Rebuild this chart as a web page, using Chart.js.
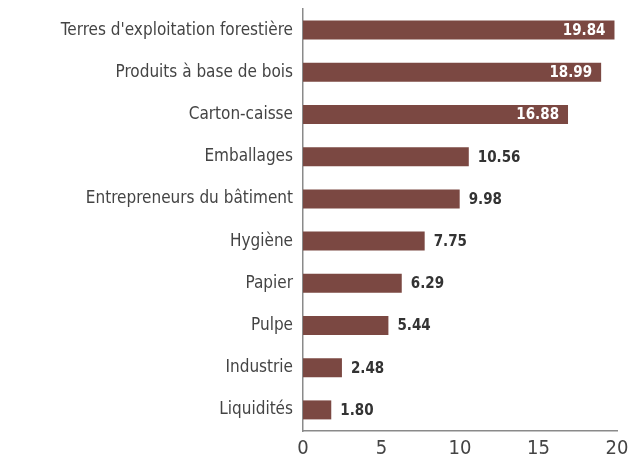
<!DOCTYPE html>
<html>
<head>
<meta charset="utf-8">
<script src="https://cdn.jsdelivr.net/npm/chart.js@4"></script>
<style>
  html, body { margin: 0; padding: 0; background: #fff; }
  #wrap { width: 642px; height: 470px; }
</style>
</head>
<body>
<div id="wrap"><canvas id="chart-bars"></canvas></div>
<script>
// categories, top to bottom
const categories = [
  "Terres d'exploitation forestière",
  "Produits à base de bois",
  "Carton-caisse",
  "Emballages",
  "Entrepreneurs du bâtiment",
  "Hygiène",
  "Papier",
  "Pulpe",
  "Industrie",
  "Liquidités"
];
const values = [19.84, 18.99, 16.88, 10.56, 9.98, 7.75, 6.29, 5.44, 2.48, 1.80];
const xTicks = [0, 5, 10, 15, 20];

const FONT = "'Liberation Sans Narrow', 'DejaVu Sans Condensed', sans-serif";
const BAR = "#7b4842";

// value labels: inside (white) when it doesn't fit at the end, else outside (dark)
const valueLabels = {
  id: "valueLabels",
  afterDatasetsDraw(chart) {
    const ctx = chart.ctx;
    const meta = chart.getDatasetMeta(0);
    const area = chart.chartArea;
    ctx.save();
    ctx.font = "bold 15px " + FONT;
    ctx.textBaseline = "middle";
    meta.data.forEach((bar, i) => {
      const txt = values[i].toFixed(2);
      const w = ctx.measureText(txt).width;
      if (bar.x + 8 + w > area.right) {
        ctx.fillStyle = "#ffffff";
        ctx.textAlign = "right";
        ctx.fillText(txt, bar.x - 9, bar.y + 1);
      } else {
        ctx.fillStyle = "#333333";
        ctx.textAlign = "left";
        ctx.fillText(txt, bar.x + 9, bar.y + 1);
      }
    });
    ctx.restore();
  }
};

new Chart(document.getElementById("chart-bars").getContext("2d"), {
  type: "bar",
  data: {
    labels: categories,
    datasets: [{
      data: values,
      backgroundColor: BAR,
      borderWidth: 0,
      categoryPercentage: 1,
      barPercentage: 0.45
    }]
  },
  options: {
    indexAxis: "y",
    responsive: true,
    maintainAspectRatio: false,
    animation: false,
    layout: { padding: { top: 9, right: 25, left: 0, bottom: 0 } },
    plugins: {
      legend: { display: false },
      tooltip: { enabled: false }
    },
    scales: {
      x: {
        min: 0,
        max: 20,
        afterBuildTicks: (scale) => { scale.ticks = xTicks.map(v => ({ value: v })); },
        afterFit: (scale) => { scale.height = 39; },
        grid: { display: false, drawTicks: false },
        border: { display: true, color: "#8a8a8a", width: 1.5 },
        ticks: {
          padding: 6,
          color: "#444",
          font: { family: FONT, size: 20 }
        }
      },
      y: {
        afterFit: (scale) => {
          scale.width = 303;
          scale.paddingTop = 0;
          scale.paddingBottom = 0;
        },
        grid: { display: false, drawTicks: false },
        border: { display: true, color: "#8a8a8a", width: 1.5 },
        ticks: {
          padding: 10,
          color: "#444",
          font: { family: FONT, size: 17 }
        }
      }
    }
  },
  plugins: [valueLabels]
});
</script>
</body>
</html>
